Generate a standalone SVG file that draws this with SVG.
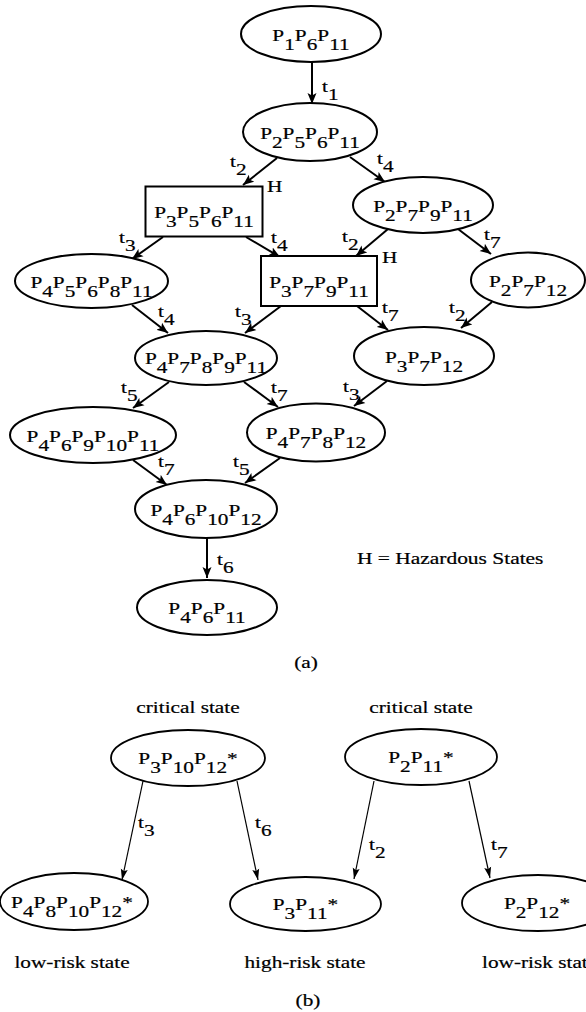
<svg xmlns="http://www.w3.org/2000/svg" width="586" height="1012" viewBox="0 0 586 1012">
<style>
text{font-family:"Liberation Serif","Times New Roman",serif;font-size:16px;fill:#000;stroke:#000;stroke-width:0.2}
.m{text-anchor:middle}
.e{fill:#fff;stroke:#000;stroke-width:2}
.eb{fill:#fff;stroke:#000;stroke-width:1.8}
.c{fill:none;stroke:#000;stroke-width:2;marker-end:url(#ah)}
.cb{fill:none;stroke:#000;stroke-width:1.2;marker-end:url(#ahb)}
</style>
<defs>
<marker id="ah" markerUnits="userSpaceOnUse" markerWidth="12" markerHeight="10" viewBox="0 0 12 10" refX="11" refY="5" orient="auto"><path d="M0,0.5 L11,5 L0,9.5 L2.5,5 z" fill="#000"/></marker>
<marker id="ahb" markerUnits="userSpaceOnUse" markerWidth="12" markerHeight="8" viewBox="0 0 12 8" refX="11" refY="4" orient="auto"><path d="M0,0.5 L11,4 L0,7.5 L2,4 z" fill="#000"/></marker>
</defs>
<rect width="586" height="1012" fill="#fff"/>

<g id="connectors">
<path class="c" d="M312,62 L312,104"/>
<path class="c" d="M277,158 L243,185"/>
<path class="c" d="M350,157 L385,182"/>
<path class="c" d="M163,237 L132,259"/>
<path class="c" d="M246,237 L280,257"/>
<path class="c" d="M388,229 L356,256"/>
<path class="c" d="M458,229 L491,254"/>
<path class="c" d="M132,305 L168,333"/>
<path class="c" d="M281,306 L245,333"/>
<path class="c" d="M357,306 L388,330"/>
<path class="c" d="M492,302 L461,328"/>
<path class="c" d="M169,382 L133,408"/>
<path class="c" d="M244,382 L278,407"/>
<path class="c" d="M387,381 L354,406"/>
<path class="c" d="M133,460 L167,485"/>
<path class="c" d="M280,458 L245,483"/>
<path class="c" d="M207,538 L207,578"/>
<path class="cb" d="M143,781 L122,880"/>
<path class="cb" d="M237,781 L258,880"/>
<path class="cb" d="M374,781 L354,879"/>
<path class="cb" d="M469,781 L490,878"/>
<g id="edge-labels">
<text transform="translate(322,92) scale(1.33,1)">t<tspan dy="8">1</tspan></text>
<text transform="translate(230,167) scale(1.33,1)">t<tspan dy="8">2</tspan></text>
<text transform="translate(377,164) scale(1.33,1)">t<tspan dy="8">4</tspan></text>
<text transform="translate(119,243) scale(1.33,1)">t<tspan dy="8">3</tspan></text>
<text transform="translate(271,243) scale(1.33,1)">t<tspan dy="8">4</tspan></text>
<text transform="translate(342,242) scale(1.33,1)">t<tspan dy="8">2</tspan></text>
<text transform="translate(484,240) scale(1.33,1)">t<tspan dy="8">7</tspan></text>
<text transform="translate(158,317) scale(1.33,1)">t<tspan dy="8">4</tspan></text>
<text transform="translate(235,317) scale(1.33,1)">t<tspan dy="8">3</tspan></text>
<text transform="translate(382,313) scale(1.33,1)">t<tspan dy="8">7</tspan></text>
<text transform="translate(449,313) scale(1.33,1)">t<tspan dy="8">2</tspan></text>
<text transform="translate(121,393) scale(1.33,1)">t<tspan dy="8">5</tspan></text>
<text transform="translate(271,393) scale(1.33,1)">t<tspan dy="8">7</tspan></text>
<text transform="translate(343,392) scale(1.33,1)">t<tspan dy="8">3</tspan></text>
<text transform="translate(158,467) scale(1.33,1)">t<tspan dy="8">7</tspan></text>
<text transform="translate(233,467) scale(1.33,1)">t<tspan dy="8">5</tspan></text>
<text transform="translate(217,565) scale(1.33,1)">t<tspan dy="8">6</tspan></text>
<text transform="translate(138,828) scale(1.33,1)">t<tspan dy="8">3</tspan></text>
<text transform="translate(255,828) scale(1.33,1)">t<tspan dy="8">6</tspan></text>
<text transform="translate(369,850) scale(1.33,1)">t<tspan dy="8">2</tspan></text>
<text transform="translate(491,850) scale(1.33,1)">t<tspan dy="8">7</tspan></text>
</g>
</g>

<g id="n1"><ellipse class="e" cx="311" cy="34" rx="70" ry="28"/>
<text class="m" transform="translate(311,40.5) scale(1.33,1)">P<tspan dy="9">1</tspan><tspan dy="-9">P</tspan><tspan dy="9">6</tspan><tspan dy="-9">P</tspan><tspan dy="9">11</tspan></text></g>

<g id="n2"><ellipse class="e" cx="310" cy="132" rx="67" ry="29"/>
<text class="m" transform="translate(310,138.5) scale(1.33,1)">P<tspan dy="9">2</tspan><tspan dy="-9">P</tspan><tspan dy="9">5</tspan><tspan dy="-9">P</tspan><tspan dy="9">6</tspan><tspan dy="-9">P</tspan><tspan dy="9">11</tspan></text></g>

<g id="n3"><rect class="e" x="145.5" y="186.5" width="117" height="50"/>
<text class="m" transform="translate(204,218) scale(1.33,1)">P<tspan dy="9">3</tspan><tspan dy="-9">P</tspan><tspan dy="9">5</tspan><tspan dy="-9">P</tspan><tspan dy="9">6</tspan><tspan dy="-9">P</tspan><tspan dy="9">11</tspan></text>
<text transform="translate(267,192) scale(1.33,1)">H</text></g>

<g id="n4"><ellipse class="e" cx="423" cy="205" rx="70" ry="28"/>
<text class="m" transform="translate(423,211.5) scale(1.33,1)">P<tspan dy="9">2</tspan><tspan dy="-9">P</tspan><tspan dy="9">7</tspan><tspan dy="-9">P</tspan><tspan dy="9">9</tspan><tspan dy="-9">P</tspan><tspan dy="9">11</tspan></text></g>

<g id="n5"><ellipse class="e" cx="91.5" cy="281" rx="76.5" ry="27"/>
<text class="m" transform="translate(91.5,288) scale(1.33,1)">P<tspan dy="9">4</tspan><tspan dy="-9">P</tspan><tspan dy="9">5</tspan><tspan dy="-9">P</tspan><tspan dy="9">6</tspan><tspan dy="-9">P</tspan><tspan dy="9">8</tspan><tspan dy="-9">P</tspan><tspan dy="9">11</tspan></text></g>

<g id="n6"><rect class="e" x="261" y="256" width="116" height="50"/>
<text class="m" transform="translate(319,287.5) scale(1.33,1)">P<tspan dy="9">3</tspan><tspan dy="-9">P</tspan><tspan dy="9">7</tspan><tspan dy="-9">P</tspan><tspan dy="9">9</tspan><tspan dy="-9">P</tspan><tspan dy="9">11</tspan></text>
<text transform="translate(382,263) scale(1.33,1)">H</text></g>

<g id="n7"><ellipse class="e" cx="528" cy="280" rx="57" ry="27.5"/>
<text class="m" transform="translate(528,286.5) scale(1.33,1)">P<tspan dy="9">2</tspan><tspan dy="-9">P</tspan><tspan dy="9">7</tspan><tspan dy="-9">P</tspan><tspan dy="9">12</tspan></text></g>

<g id="n8"><ellipse class="e" cx="206" cy="358" rx="71" ry="27"/>
<text class="m" transform="translate(206,364) scale(1.33,1)">P<tspan dy="9">4</tspan><tspan dy="-9">P</tspan><tspan dy="9">7</tspan><tspan dy="-9">P</tspan><tspan dy="9">8</tspan><tspan dy="-9">P</tspan><tspan dy="9">9</tspan><tspan dy="-9">P</tspan><tspan dy="9">11</tspan></text></g>

<g id="n9"><ellipse class="e" cx="424" cy="356" rx="70" ry="29"/>
<text class="m" transform="translate(424,362.5) scale(1.33,1)">P<tspan dy="9">3</tspan><tspan dy="-9">P</tspan><tspan dy="9">7</tspan><tspan dy="-9">P</tspan><tspan dy="9">12</tspan></text></g>

<g id="n10"><ellipse class="e" cx="93" cy="435" rx="83" ry="28"/>
<text class="m" transform="translate(93,441.5) scale(1.33,1)">P<tspan dy="9">4</tspan><tspan dy="-9">P</tspan><tspan dy="9">6</tspan><tspan dy="-9">P</tspan><tspan dy="9">9</tspan><tspan dy="-9">P</tspan><tspan dy="9">10</tspan><tspan dy="-9">P</tspan><tspan dy="9">11</tspan></text></g>

<g id="n11"><ellipse class="e" cx="316" cy="432.5" rx="69" ry="29"/>
<text class="m" transform="translate(316,439) scale(1.33,1)">P<tspan dy="9">4</tspan><tspan dy="-9">P</tspan><tspan dy="9">7</tspan><tspan dy="-9">P</tspan><tspan dy="9">8</tspan><tspan dy="-9">P</tspan><tspan dy="9">12</tspan></text></g>

<g id="n12"><ellipse class="e" cx="206" cy="509" rx="71" ry="29"/>
<text class="m" transform="translate(206,515.5) scale(1.33,1)">P<tspan dy="9">4</tspan><tspan dy="-9">P</tspan><tspan dy="9">6</tspan><tspan dy="-9">P</tspan><tspan dy="9">10</tspan><tspan dy="-9">P</tspan><tspan dy="9">12</tspan></text></g>

<g id="n13"><ellipse class="e" cx="207" cy="607.5" rx="70" ry="27.5"/>
<text class="m" transform="translate(207,614) scale(1.33,1)">P<tspan dy="9">4</tspan><tspan dy="-9">P</tspan><tspan dy="9">6</tspan><tspan dy="-9">P</tspan><tspan dy="9">11</tspan></text></g>

<g id="b1"><ellipse class="eb" cx="188" cy="758" rx="77" ry="28"/>
<text class="m" transform="translate(188,763.5) scale(1.33,1)">P<tspan dy="9">3</tspan><tspan dy="-9">P</tspan><tspan dy="9">10</tspan><tspan dy="-9">P</tspan><tspan dy="9">12</tspan><tspan dy="-9">*</tspan></text></g>

<g id="b2"><ellipse class="eb" cx="421" cy="757" rx="76" ry="28"/>
<text class="m" transform="translate(421,762.5) scale(1.33,1)">P<tspan dy="9">2</tspan><tspan dy="-9">P</tspan><tspan dy="9">11</tspan><tspan dy="-9">*</tspan></text></g>

<g id="b3"><ellipse class="eb" cx="74" cy="901.5" rx="74" ry="28.5"/>
<text class="m" transform="translate(72,908) scale(1.33,1)">P<tspan dy="9">4</tspan><tspan dy="-9">P</tspan><tspan dy="9">8</tspan><tspan dy="-9">P</tspan><tspan dy="9">10</tspan><tspan dy="-9">P</tspan><tspan dy="9">12</tspan><tspan dy="-9">*</tspan></text></g>

<g id="b4"><ellipse class="eb" cx="305.5" cy="904" rx="75.5" ry="27"/>
<text class="m" transform="translate(305.5,909.5) scale(1.33,1)">P<tspan dy="9">3</tspan><tspan dy="-9">P</tspan><tspan dy="9">11</tspan><tspan dy="-9">*</tspan></text></g>

<g id="b5"><ellipse class="eb" cx="538" cy="903" rx="76" ry="28"/>
<text class="m" transform="translate(537,908.5) scale(1.33,1)">P<tspan dy="9">2</tspan><tspan dy="-9">P</tspan><tspan dy="9">12</tspan><tspan dy="-9">*</tspan></text></g>

<g id="annotations">
<text transform="translate(357,564) scale(1.34,1)">H = Hazardous States</text>
<text class="m" transform="translate(306,668) scale(1.33,1)">(a)</text>
<text class="m" transform="translate(188,713) scale(1.33,1)">critical state</text>
<text class="m" transform="translate(421,713) scale(1.33,1)">critical state</text>
<text class="m" transform="translate(72,968) scale(1.33,1)">low-risk state</text>
<text class="m" transform="translate(305,968) scale(1.33,1)">high-risk state</text>
<text transform="translate(482,968) scale(1.33,1)">low-risk state</text>
<text class="m" transform="translate(308,1006) scale(1.33,1)">(b)</text>
</g>
</svg>
